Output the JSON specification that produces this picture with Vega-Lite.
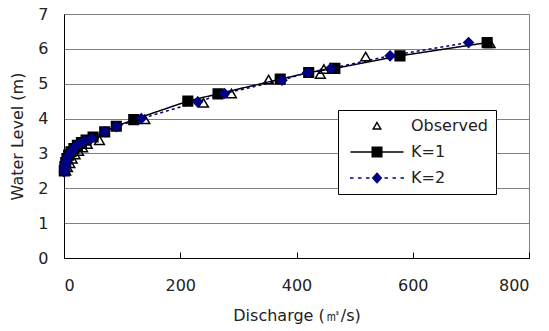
{
  "$schema": "https://vega.github.io/schema/vega-lite/v6.json",
  "width": 465,
  "height": 244,
  "autosize": {"type": "none"},
  "padding": {"left": 64, "top": 14, "right": 20, "bottom": 73},
  "background": "white",
  "config": {
    "view": {"stroke": "#808080", "strokeWidth": 1},
    "font": "DejaVu Sans",
    "legend": {
      "title": null,
      "orient": "none",
      "legendX": 274,
      "legendY": 96,
      "fillColor": "white",
      "strokeColor": "#000000",
      "padding": 8,
      "symbolSize": 100,
      "symbolStrokeWidth": 1.5,
      "labelOffset": 49,
      "rowPadding": 10,
      "labelFont": "DejaVu Sans",
      "labelFontSize": 16,
      "labelColor": "#222222"
    }
  },
  "data": {
    "values": [
      {"series": "Observed", "q": 3, "h": 2.5},
      {"series": "Observed", "q": 6, "h": 2.6},
      {"series": "Observed", "q": 10, "h": 2.72},
      {"series": "Observed", "q": 14, "h": 2.85},
      {"series": "Observed", "q": 19, "h": 2.97},
      {"series": "Observed", "q": 25, "h": 3.07},
      {"series": "Observed", "q": 32, "h": 3.17},
      {"series": "Observed", "q": 40, "h": 3.27},
      {"series": "Observed", "q": 61, "h": 3.38},
      {"series": "Observed", "q": 139, "h": 3.98},
      {"series": "Observed", "q": 240, "h": 4.45},
      {"series": "Observed", "q": 288, "h": 4.72},
      {"series": "Observed", "q": 352, "h": 5.12},
      {"series": "Observed", "q": 441, "h": 5.28},
      {"series": "Observed", "q": 447, "h": 5.42},
      {"series": "Observed", "q": 519, "h": 5.78},
      {"series": "Observed", "q": 733, "h": 6.16},
      {"series": "K=1", "q": 0.5, "h": 2.5},
      {"series": "K=1", "q": 1.5, "h": 2.62},
      {"series": "K=1", "q": 3, "h": 2.74},
      {"series": "K=1", "q": 5, "h": 2.85},
      {"series": "K=1", "q": 8, "h": 2.95},
      {"series": "K=1", "q": 12, "h": 3.05},
      {"series": "K=1", "q": 17, "h": 3.14},
      {"series": "K=1", "q": 23, "h": 3.23},
      {"series": "K=1", "q": 30, "h": 3.31},
      {"series": "K=1", "q": 38, "h": 3.38},
      {"series": "K=1", "q": 50, "h": 3.47},
      {"series": "K=1", "q": 70, "h": 3.62},
      {"series": "K=1", "q": 90, "h": 3.78},
      {"series": "K=1", "q": 120, "h": 3.97},
      {"series": "K=1", "q": 213, "h": 4.5},
      {"series": "K=1", "q": 265, "h": 4.71},
      {"series": "K=1", "q": 372, "h": 5.13},
      {"series": "K=1", "q": 421, "h": 5.32},
      {"series": "K=1", "q": 466, "h": 5.44},
      {"series": "K=1", "q": 578, "h": 5.8},
      {"series": "K=1", "q": 728, "h": 6.18},
      {"series": "K=2", "q": 0.3, "h": 2.47},
      {"series": "K=2", "q": 1, "h": 2.57},
      {"series": "K=2", "q": 2.2, "h": 2.68},
      {"series": "K=2", "q": 4, "h": 2.79},
      {"series": "K=2", "q": 6.5, "h": 2.9},
      {"series": "K=2", "q": 10, "h": 3.0},
      {"series": "K=2", "q": 14, "h": 3.09},
      {"series": "K=2", "q": 19, "h": 3.18},
      {"series": "K=2", "q": 26, "h": 3.27},
      {"series": "K=2", "q": 34, "h": 3.35},
      {"series": "K=2", "q": 47, "h": 3.43},
      {"series": "K=2", "q": 70, "h": 3.62},
      {"series": "K=2", "q": 90, "h": 3.77},
      {"series": "K=2", "q": 133, "h": 4.0},
      {"series": "K=2", "q": 230, "h": 4.48},
      {"series": "K=2", "q": 276, "h": 4.72},
      {"series": "K=2", "q": 375, "h": 5.1},
      {"series": "K=2", "q": 419, "h": 5.32},
      {"series": "K=2", "q": 459, "h": 5.44},
      {"series": "K=2", "q": 561, "h": 5.8},
      {"series": "K=2", "q": 696, "h": 6.18}
    ]
  },
  "encoding": {
    "x": {
      "field": "q", "type": "quantitative",
      "scale": {"domain": [0, 800], "nice": false, "zero": false},
      "axis": {
        "values": [0, 200, 400, 600, 800],
        "title": "Discharge (㎥/s)",
        "grid": false,
        "domainColor": "#000000",
        "domainWidth": 1,
        "ticks": true,
        "tickColor": "#000000",
        "tickWidth": 1,
        "tickSize": -6,
        "labelFont": "DejaVu Sans",
        "labelFontSize": 16,
        "labelColor": "#222222",
        "labelPadding": 25,
        "titleFont": "DejaVu Sans",
        "titleFontSize": 16,
        "titleFontWeight": "normal",
        "titleColor": "#222222",
        "titlePadding": 14
      }
    },
    "y": {
      "field": "h", "type": "quantitative",
      "scale": {"domain": [0, 7], "nice": false},
      "axis": {
        "values": [0, 1, 2, 3, 4, 5, 6, 7],
        "title": "Water Level (m)",
        "grid": true,
        "gridColor": "#808080",
        "gridWidth": 1,
        "ticks": false,
        "domainColor": "#000000",
        "domainWidth": 1,
        "labelFont": "DejaVu Sans",
        "labelFontSize": 16,
        "labelColor": "#222222",
        "labelPadding": 16,
        "titleFont": "DejaVu Sans",
        "titleFontSize": 16,
        "titleFontWeight": "normal",
        "titleColor": "#222222",
        "titlePadding": 12
      }
    }
  },
  "layer": [
    {
      "transform": [{"filter": "datum.series !== 'Observed'"}],
      "mark": {"type": "line", "strokeWidth": 1.5},
      "encoding": {
        "stroke": {
          "field": "series", "type": "nominal",
          "scale": {"domain": ["K=1", "K=2"], "range": ["#000000", "#000080"]},
          "legend": null
        },
        "strokeDash": {
          "field": "series", "type": "nominal",
          "scale": {"domain": ["K=1", "K=2"], "range": [[1, 0], [3, 3]]},
          "legend": null
        }
      }
    },
    {
      "mark": {"type": "point", "strokeWidth": 1.5, "opacity": 1},
      "encoding": {
        "shape": {
          "field": "series", "type": "nominal",
          "scale": {"domain": ["Observed", "K=1", "K=2"], "range": ["triangle-up", "square", "diamond"]},
          "legend": null
        },
        "fill": {
          "field": "series", "type": "nominal",
          "scale": {"domain": ["Observed", "K=1", "K=2"], "range": ["transparent", "#000000", "#000080"]},
          "legend": null
        },
        "stroke": {
          "field": "series", "type": "nominal",
          "scale": {"domain": ["Observed", "K=1", "K=2"], "range": ["#000000", "#000000", "#000080"]},
          "legend": null
        },
        "size": {
          "field": "series", "type": "nominal",
          "scale": {"domain": ["Observed", "K=1", "K=2"], "range": [95, 90, 110]},
          "legend": null
        }
      }
    },
    {
      "transform": [{"filter": "false"}],
      "mark": {"type": "point", "filled": true, "opacity": 1},
      "encoding": {
        "shape": {
          "field": "series", "type": "nominal",
          "scale": {"domain": ["Observed", "K=1", "K=2"], "range": ["M4.6,-0.7L5.35,0.6L3.85,0.6Z", "M-0.7,0L9.9,0M3.65,-0.95L5.55,-0.95L5.55,0.95L3.65,0.95Z", "M-0.8,0L-0.1,0M0.8,0L1.5,0M2.4,0L3.1,0M6.1,0L6.8,0M7.7,0L8.4,0M9.3,0L10,0M4.6,-0.95L5.45,0L4.6,0.95L3.75,0Z"]}
        },
        "fill": {
          "field": "series", "type": "nominal",
          "scale": {"domain": ["Observed", "K=1", "K=2"], "range": ["transparent", "#000000", "#000080"]}
        },
        "stroke": {
          "field": "series", "type": "nominal",
          "scale": {"domain": ["Observed", "K=1", "K=2"], "range": ["#000000", "#000000", "#000080"]}
        }
      }
    }
  ],
  "resolve": {
    "scale": {"shape": "independent", "fill": "independent", "stroke": "independent", "size": "independent", "strokeDash": "independent"},
    "legend": {"shape": "independent", "fill": "independent", "stroke": "independent", "size": "independent", "strokeDash": "independent"}
  }
}
